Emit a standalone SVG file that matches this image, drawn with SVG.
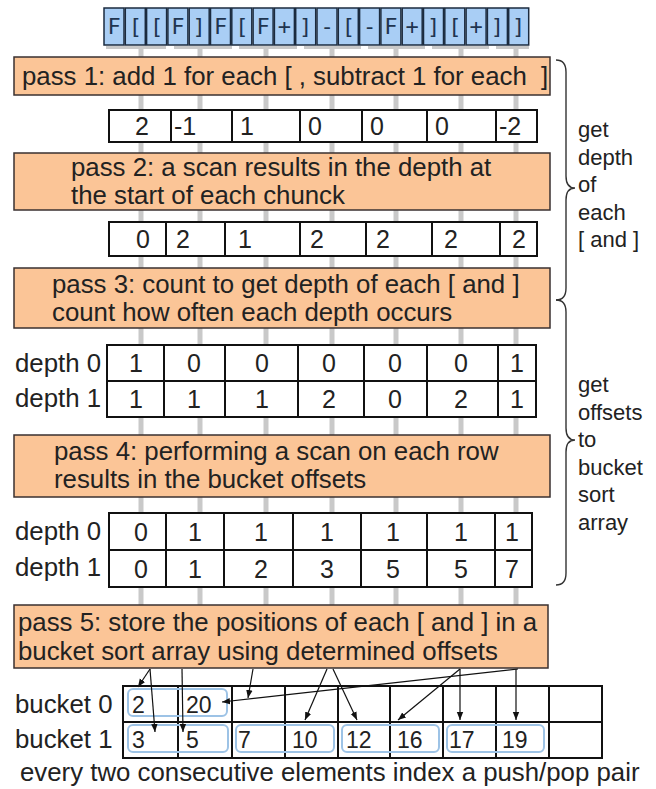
<svg xmlns="http://www.w3.org/2000/svg" width="656" height="789" viewBox="0 0 656 789">
<style>
text{font-family:"Liberation Sans",Arial,sans-serif;fill:#222;}
.t{font-size:25.8px;white-space:pre;}
.s{font-size:22px;}
.v{font-size:25px;}
.c{text-anchor:middle;}
.b{font-size:23px;}
.pass{fill:#fbc597;stroke:#3a3030;stroke-width:1.5;}
.cell{fill:#fff;stroke:#111;stroke-width:2;}
.sep{stroke:#111;stroke-width:2;}
.top{fill:#a9cef5;stroke:#1b2b3f;stroke-width:1.5;}
.ch{font-family:"DejaVu Sans Mono",monospace;font-size:22px;fill:#1f3550;text-anchor:middle;}
.gray{stroke:#c9c9c9;stroke-width:5;}
.pair{fill:none;stroke:#9dc3e6;stroke-width:2;}
.arr{stroke:#111;stroke-width:1.2;fill:none;marker-end:url(#ah);}
.brace{fill:none;stroke:#333;stroke-width:1.4;}
</style>
<defs>
<marker id="ah" viewBox="0 0 10 10" refX="10" refY="5" markerWidth="8" markerHeight="8" markerUnits="userSpaceOnUse" orient="auto">
<path d="M0,1 L10,5 L0,9 z" fill="#111"/>
</marker>
</defs>
<rect width="656" height="789" fill="#fff"/>

<g id="threads">
<rect x="106" y="46" width="60" height="3" fill="#c9c9c9"/>
<rect x="174" y="46" width="58" height="3" fill="#c9c9c9"/>
<rect x="239" y="46" width="58" height="3" fill="#c9c9c9"/>
<rect x="304" y="46" width="57" height="3" fill="#c9c9c9"/>
<rect x="368" y="46" width="57" height="3" fill="#c9c9c9"/>
<rect x="432" y="46" width="57" height="3" fill="#c9c9c9"/>
<rect x="496" y="46" width="33" height="3" fill="#c9c9c9"/>
<line class="gray" x1="141" y1="46" x2="141" y2="605"/>
<line class="gray" x1="200" y1="46" x2="200" y2="605"/>
<line class="gray" x1="266" y1="46" x2="266" y2="605"/>
<line class="gray" x1="332" y1="46" x2="332" y2="605"/>
<line class="gray" x1="396" y1="46" x2="396" y2="605"/>
<line class="gray" x1="461" y1="46" x2="461" y2="605"/>
<line class="gray" x1="516" y1="46" x2="516" y2="605"/>
</g>

<g id="input-string">
<rect class="top" x="104" y="8" width="20" height="37"/><text class="ch" x="114" y="34">F</text>
<rect class="top" x="125.3" y="8" width="20" height="37"/><text class="ch" x="135.3" y="34">[</text>
<rect class="top" x="146.6" y="8" width="20" height="37"/><text class="ch" x="156.6" y="34">[</text>
<rect class="top" x="167.9" y="8" width="20" height="37"/><text class="ch" x="177.9" y="34">F</text>
<rect class="top" x="189.2" y="8" width="20" height="37"/><text class="ch" x="199.2" y="34">]</text>
<rect class="top" x="210.5" y="8" width="20" height="37"/><text class="ch" x="220.5" y="34">F</text>
<rect class="top" x="231.8" y="8" width="20" height="37"/><text class="ch" x="241.8" y="34">[</text>
<rect class="top" x="253.1" y="8" width="20" height="37"/><text class="ch" x="263.1" y="34">F</text>
<rect class="top" x="274.4" y="8" width="20" height="37"/><text class="ch" x="284.4" y="34">+</text>
<rect class="top" x="295.7" y="8" width="20" height="37"/><text class="ch" x="305.7" y="34">]</text>
<rect class="top" x="317" y="8" width="20" height="37"/><text class="ch" x="327" y="34">-</text>
<rect class="top" x="338.3" y="8" width="20" height="37"/><text class="ch" x="348.3" y="34">[</text>
<rect class="top" x="359.6" y="8" width="20" height="37"/><text class="ch" x="369.6" y="34">-</text>
<rect class="top" x="380.9" y="8" width="20" height="37"/><text class="ch" x="390.9" y="34">F</text>
<rect class="top" x="402.2" y="8" width="20" height="37"/><text class="ch" x="412.2" y="34">+</text>
<rect class="top" x="423.5" y="8" width="20" height="37"/><text class="ch" x="433.5" y="34">]</text>
<rect class="top" x="444.8" y="8" width="20" height="37"/><text class="ch" x="454.8" y="34">[</text>
<rect class="top" x="466.1" y="8" width="20" height="37"/><text class="ch" x="476.1" y="34">+</text>
<rect class="top" x="487.4" y="8" width="20" height="37"/><text class="ch" x="497.4" y="34">]</text>
<rect class="top" x="508.7" y="8" width="20" height="37"/><text class="ch" x="518.7" y="34">]</text>
</g>

<g id="pass1">
<rect class="pass" x="14" y="57" width="536" height="38"/>
<text class="t" x="22" y="85">pass 1: add 1 for each [ , subtract 1 for each  ]</text>
</g>

<g id="row1">
<rect class="cell" x="109" y="110" width="428" height="32"/>
<path class="sep" d="M171,110V142M232,110V142M300,110V142M362,110V142M427,110V142M496,110V142"/>
<text class="v" x="135" y="135">2</text>
<text class="v" x="174" y="135">-1</text>
<text class="v" x="240" y="135">1</text>
<text class="v" x="308" y="135">0</text>
<text class="v" x="370" y="135">0</text>
<text class="v" x="435" y="135">0</text>
<text class="v" x="499" y="135">-2</text>
</g>

<g id="pass2">
<rect class="pass" x="14" y="153" width="536" height="57"/>
<text class="t" x="71" y="176">pass 2: a scan results in the depth at</text>
<text class="t" x="71" y="204">the start of each chunck</text>
</g>

<g id="row2">
<rect class="cell" x="109" y="222" width="428" height="34"/>
<path class="sep" d="M166,222V256M225,222V256M300,222V256M366,222V256M432,222V256M500,222V256"/>
<text class="v" x="136" y="248">0</text>
<text class="v" x="176" y="248">2</text>
<text class="v" x="238" y="248">1</text>
<text class="v" x="310" y="248">2</text>
<text class="v" x="376" y="248">2</text>
<text class="v" x="444" y="248">2</text>
<text class="v" x="512" y="248">2</text>
</g>

<g id="pass3">
<rect class="pass" x="14" y="268" width="536" height="60"/>
<text class="t" x="52" y="293">pass 3: count to get depth of each [ and ]</text>
<text class="t" x="52" y="321">count how often each depth occurs</text>
</g>

<g id="counts">
<text class="t" x="15" y="372">depth 0</text>
<text class="t" x="15" y="407">depth 1</text>
<rect class="cell" x="107" y="345" width="429" height="72"/>
<path class="sep" d="M107,381H536M164,345V417M225,345V417M298,345V417M364,345V417M427,345V417M498,345V417"/>
<text class="v c" x="136" y="372">1</text><text class="v c" x="194" y="372">0</text><text class="v c" x="262" y="372">0</text><text class="v c" x="329" y="372">0</text><text class="v c" x="395" y="372">0</text><text class="v c" x="461" y="372">0</text><text class="v c" x="517" y="372">1</text>
<text class="v c" x="136" y="408">1</text><text class="v c" x="194" y="408">1</text><text class="v c" x="262" y="408">1</text><text class="v c" x="329" y="408">2</text><text class="v c" x="395" y="408">0</text><text class="v c" x="461" y="408">2</text><text class="v c" x="517" y="408">1</text>
</g>

<g id="pass4">
<rect class="pass" x="14" y="435" width="536" height="62"/>
<text class="t" x="54" y="460">pass 4: performing a scan on each row</text>
<text class="t" x="54" y="488">results in the bucket offsets</text>
</g>

<g id="offsets">
<text class="t" x="15" y="540">depth 0</text>
<text class="t" x="15" y="576">depth 1</text>
<rect class="cell" x="109" y="513" width="423" height="74"/>
<path class="sep" d="M109,550H532M166,513V587M224,513V587M293,513V587M361,513V587M427,513V587M495,513V587"/>
<text class="v c" x="141" y="541">0</text><text class="v c" x="195" y="541">1</text><text class="v c" x="261" y="541">1</text><text class="v c" x="327" y="541">1</text><text class="v c" x="393" y="541">1</text><text class="v c" x="461" y="541">1</text><text class="v c" x="512" y="541">1</text>
<text class="v c" x="141" y="578">0</text><text class="v c" x="195" y="578">1</text><text class="v c" x="261" y="578">2</text><text class="v c" x="327" y="578">3</text><text class="v c" x="393" y="578">5</text><text class="v c" x="461" y="578">5</text><text class="v c" x="512" y="578">7</text>
</g>

<g id="pass5">
<rect class="pass" x="14" y="605" width="534" height="63"/>
<text class="t" x="18" y="631">pass 5: store the positions of each [ and ] in a</text>
<text class="t" x="18" y="660">bucket sort array using determined offsets</text>
</g>

<g id="buckets">
<text class="t" x="15" y="713">bucket 0</text>
<text class="t" x="15" y="748">bucket 1</text>
<rect class="cell" x="123" y="686" width="479" height="72"/>
<path class="sep" d="M123,722H602M178,686V758M232,686V758M285,686V758M338,686V758M390,686V758M443,686V758M496,686V758M549,686V758"/>
<rect class="pair" x="128" y="689" width="99" height="27" rx="5"/>
<rect class="pair" x="128" y="725" width="100" height="27" rx="5"/>
<rect class="pair" x="236" y="725" width="98" height="27" rx="5"/>
<rect class="pair" x="342" y="725" width="97" height="27" rx="5"/>
<rect class="pair" x="447" y="725" width="97" height="27" rx="5"/>
<text class="b" x="132" y="713">2</text>
<text class="b" x="186" y="713">20</text>
<text class="b" x="132" y="748">3</text>
<text class="b" x="186" y="748">5</text>
<text class="b" x="238" y="748">7</text>
<text class="b" x="292" y="748">10</text>
<text class="b" x="346" y="748">12</text>
<text class="b" x="397" y="748">16</text>
<text class="b" x="449" y="748">17</text>
<text class="b" x="502" y="748">19</text>
</g>

<g id="connectors">
<line class="arr" x1="150" y1="669" x2="138" y2="687"/>
<line class="arr" x1="150" y1="669" x2="155" y2="732"/>
<line class="arr" x1="182" y1="669" x2="183" y2="732"/>
<line class="arr" x1="253" y1="669" x2="248" y2="698"/>
<line class="arr" x1="518" y1="669" x2="222" y2="702"/>
<line class="arr" x1="327" y1="669" x2="305" y2="720"/>
<line class="arr" x1="333" y1="669" x2="357" y2="720"/>
<line class="arr" x1="460" y1="669" x2="398" y2="720"/>
<line class="arr" x1="460" y1="669" x2="460" y2="720"/>
<line class="arr" x1="516" y1="669" x2="516" y2="720"/>
</g>

<g id="brace-depth">
<path class="brace" d="M556,60 Q566,60 566,72 L566,176 Q566,188 575,188 Q566,188 566,200 L566,288 Q566,300 556,300"/>
<text class="s" x="578" y="137">get</text>
<text class="s" x="578" y="165">depth</text>
<text class="s" x="578" y="192">of</text>
<text class="s" x="578" y="220">each</text>
<text class="s" x="578" y="247">[ and ]</text>
</g>

<g id="brace-offsets">
<path class="brace" d="M556,300 Q566,300 566,312 L566,428 Q566,440 575,440 Q566,440 566,452 L566,573 Q566,585 556,585"/>
<text class="s" x="578" y="392">get</text>
<text class="s" x="578" y="420">offsets</text>
<text class="s" x="578" y="447">to</text>
<text class="s" x="578" y="475">bucket</text>
<text class="s" x="578" y="502">sort</text>
<text class="s" x="578" y="530">array</text>
</g>

<g id="footer">
<text class="t" x="20" y="781">every two consecutive elements index a push/pop pair</text>
</g>
</svg>
